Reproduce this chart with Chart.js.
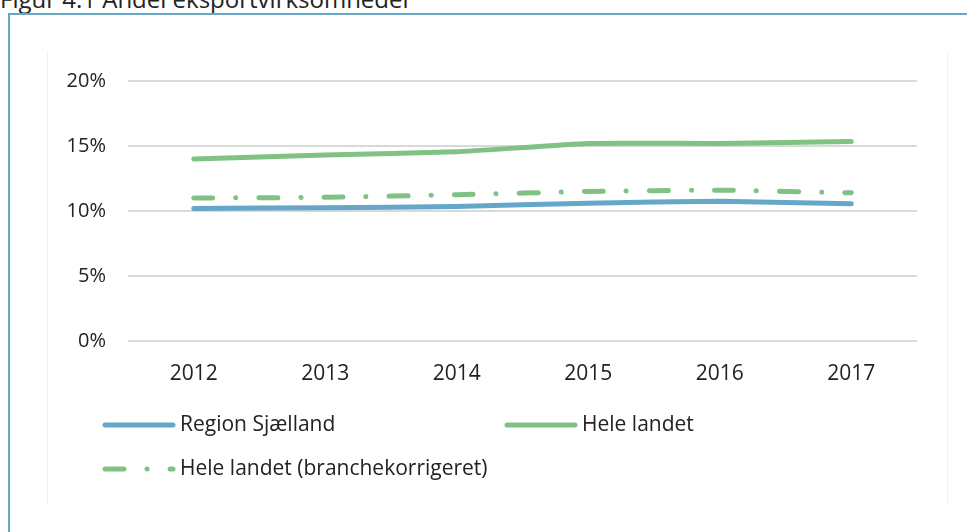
<!DOCTYPE html>
<html>
<head>
<meta charset="utf-8">
<script src="https://cdn.jsdelivr.net/npm/chart.js@4.4.1/dist/chart.umd.min.js"></script>
<style>
  html, body { margin: 0; padding: 0; background: #fff; overflow: hidden; }
  body { width: 967px; height: 532px; position: relative; font-family: "Open Sans", sans-serif; }
  .title { position: absolute; left: 0; top: -13px; font-size: 24px; line-height: 24px; color: #222; white-space: nowrap; }
  .frame { position: absolute; left: 8px; top: 13px; width: 980px; height: 540px;
           border-left: 2px solid #6aa8c8; border-top: 2px solid #6aa8c8; }
  .panel { position: absolute; left: 47px; top: 52px; width: 899px; height: 453px;
           border-left: 1px solid #f2f2f2; border-right: 1px solid #f2f2f2; }
  #wrap { position: absolute; left: 0; top: 0; width: 967px; height: 532px; }
</style>
</head>
<body>
<div class="title">Figur 4.1 Andel eksportvirksomheder</div>
<div class="frame"></div>
<div class="panel"></div>
<div id="wrap"><canvas id="lineChart"></canvas></div>
<script>
  "use strict";

  var years = ["2012", "2013", "2014", "2015", "2016", "2017"];
  var regionSjaelland = [10.2, 10.25, 10.35, 10.6, 10.75, 10.55];
  var heleLandet = [14.0, 14.3, 14.55, 15.2, 15.2, 15.35];
  var heleLandetBranche = [11.0, 11.05, 11.25, 11.5, 11.6, 11.4];
  var yTicks = [0, 5, 10, 15, 20];

  var blue = "#65a7c9";
  var green = "#80c283";
  var dashDot = [19, 23, 0.1, 23];

  // legend drawn by hand so it sits in two columns like the original
  var legendPlugin = {
    id: "manualLegend",
    afterDraw: function (chart) {
      var c = chart.ctx;
      var spots = [
        { x: 105, y: 425 },
        { x: 507, y: 425 },
        { x: 105, y: 469 },
      ];
      chart.data.datasets.forEach(function (ds, i) {
        var p = spots[i];
        c.save();
        c.strokeStyle = ds.borderColor;
        c.lineWidth = 5;
        c.lineCap = "round";
        c.setLineDash(ds.borderDash || []);
        c.beginPath();
        c.moveTo(p.x, p.y);
        c.lineTo(p.x + 68, p.y);
        c.stroke();
        c.restore();
        c.save();
        c.fillStyle = "#222";
        c.font = "21px 'Open Sans'";
        c.textBaseline = "middle";
        c.fillText(ds.label, p.x + 75, p.y);
        c.restore();
      });
    },
  };

  var ctx = document.getElementById("lineChart");
  var myChart = new Chart(ctx, {
    type: "line",
    data: {
      labels: years,
      datasets: [
        {
          label: "Region Sjælland",
          data: regionSjaelland,
          borderColor: blue,
          borderWidth: 5,
          borderCapStyle: "round",
          pointRadius: 0,
          tension: 0.15,
        },
        {
          label: "Hele landet",
          data: heleLandet,
          borderColor: green,
          borderWidth: 5,
          borderCapStyle: "round",
          pointRadius: 0,
          tension: 0.15,
        },
        {
          label: "Hele landet (branchekorrigeret)",
          data: heleLandetBranche,
          borderColor: green,
          borderWidth: 5,
          borderCapStyle: "round",
          borderDash: dashDot,
          pointRadius: 0,
          tension: 0.15,
        },
      ],
    },
    options: {
      responsive: true,
      maintainAspectRatio: false,
      animation: false,
      layout: { padding: { top: 81, right: 50, bottom: 0, left: 0 } },
      plugins: {
        legend: { display: false },
        tooltip: { enabled: false },
      },
      scales: {
        x: {
          offset: true,
          grid: { display: false, drawTicks: false },
          border: { display: false },
          ticks: { color: "#222", font: { family: "Open Sans", size: 21 }, padding: 20, maxRotation: 0 },
          afterFit: function (s) { s.height = 191; },
        },
        y: {
          min: 0,
          max: 20,
          afterBuildTicks: function (s) {
            s.ticks = yTicks.map(function (v) { return { value: v }; });
          },
          grid: { color: "#d9d9d9", lineWidth: 2, drawTicks: false },
          border: { display: false },
          ticks: {
            color: "#222",
            font: { family: "Open Sans", size: 20 },
            padding: 22,
            callback: function (v) { return v + "%"; },
          },
          afterFit: function (s) { s.width = 128; },
        },
      },
    },
    plugins: [legendPlugin],
  });
</script>
</body>
</html>
